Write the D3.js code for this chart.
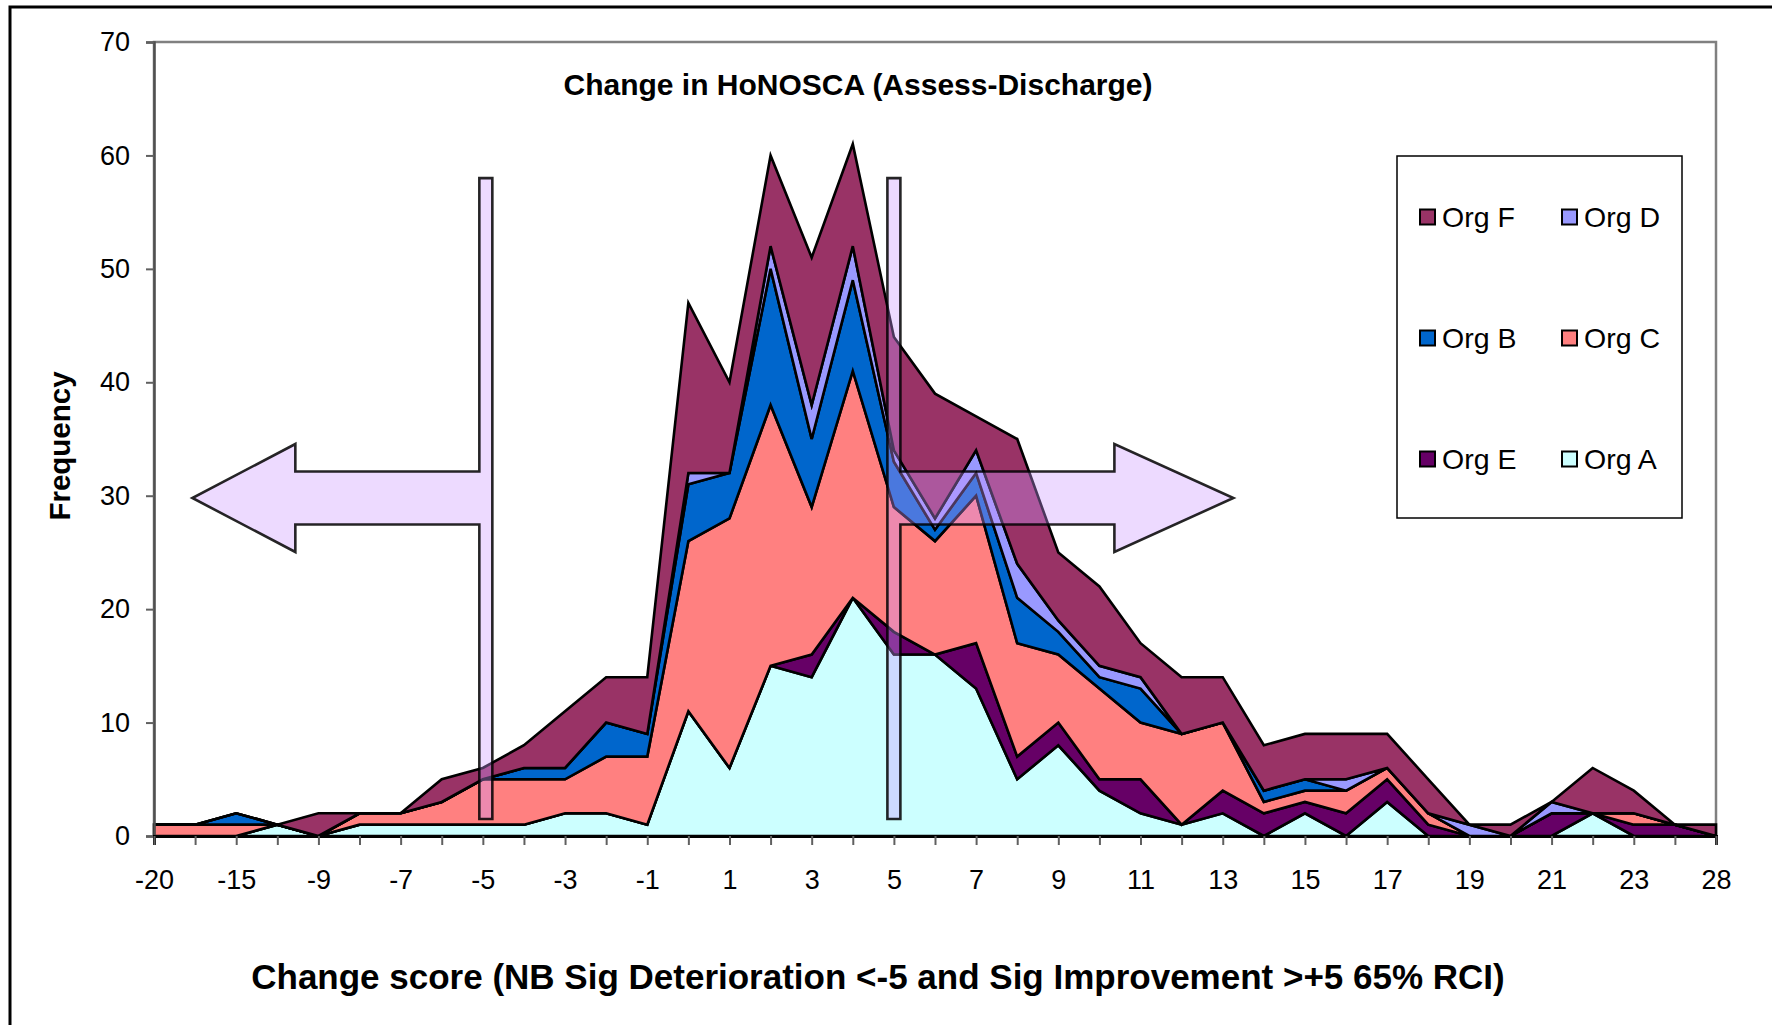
<!DOCTYPE html>
<html>
<head>
<meta charset="utf-8">
<script src="https://cdn.jsdelivr.net/npm/d3@7"></script>
<style>
  body { margin: 0; background: #fff; }
  svg { display: block; font-family: Arial, "Liberation Sans", sans-serif; }
</style>
</head>
<body>
<svg id="chart"></svg>
<script>
// change score categories (only every other one gets a label)
const categories = [-20, -18, -15, -11, -9, -8, -7, -6, -5, -4, -3, -2, -1, 0, 1, 2, 3, 4, 5, 6,
  7, 8, 9, 10, 11, 12, 13, 14, 15, 16, 17, 18, 19, 20, 21, 22, 23, 25, 28];

// frequencies per organisation, stacked bottom -> top: A, E, C, B, D, F
const orgA = [0, 0, 0, 1, 0, 1, 1, 1, 1, 1, 2, 2, 1, 11, 6, 15, 14, 21, 16, 16,
  13, 5, 8, 4, 2, 1, 2, 0, 2, 0, 3, 0, 0, 0, 0, 2, 0, 0, 0];
const orgE = [0, 0, 0, 0, 0, 0, 0, 0, 0, 0, 0, 0, 0, 0, 0, 0, 2, 0, 2, 0,
  4, 2, 2, 1, 3, 0, 2, 2, 1, 2, 2, 1, 0, 0, 2, 0, 1, 1, 0];
const orgC = [1, 1, 1, 0, 0, 1, 1, 2, 4, 4, 3, 5, 6, 15, 22, 23, 13, 20, 11, 10,
  13, 10, 6, 8, 5, 8, 6, 1, 1, 2, 1, 1, 0, 0, 0, 0, 1, 0, 0];
const orgB = [0, 0, 1, 0, 0, 0, 0, 0, 0, 1, 1, 3, 2, 5, 4, 12, 6, 8, 4, 1,
  2, 4, 2, 1, 3, 0, 0, 1, 1, 0, 0, 0, 0, 0, 0, 0, 0, 0, 0];
const orgD = [0, 0, 0, 0, 0, 0, 0, 0, 0, 0, 0, 0, 0, 1, 0, 2, 3, 3, 1, 1,
  2, 3, 1, 1, 1, 0, 0, 0, 0, 1, 0, 0, 1, 0, 1, 0, 0, 0, 0];
const orgF = [0, 0, 0, 0, 2, 0, 0, 2, 1, 2, 5, 4, 5, 15, 8, 8, 13, 9, 10, 11,
  3, 11, 6, 7, 3, 5, 4, 4, 4, 4, 3, 3, 0, 1, 0, 4, 2, 0, 1];

const seriesKeys = ["Org A", "Org E", "Org C", "Org B", "Org D", "Org F"];
const seriesValues = [orgA, orgE, orgC, orgB, orgD, orgF];
const seriesColors = ["#CCFFFF", "#660066", "#FF8080", "#0066CC", "#9999FF", "#993366"];
const legendOrder = ["Org F", "Org D", "Org B", "Org C", "Org E", "Org A"];

const yTicks = [0, 10, 20, 30, 40, 50, 60, 70];

// significance cut-offs drawn as bar + arrow call-outs (hand placed shapes in the original)
const cutoffs = [
  { at: -5, dir: -1, nudge: 3, shaftLen: 184, headLen: 103 },
  { at: 5, dir: 1, nudge: 0, shaftLen: 214, headLen: 119 }
];

const width = 1772;
const height = 1025;
const margin = { left: 154, right: 56, top: 42, bottom: 189 };

const svg = d3.select("#chart").attr("width", width).attr("height", height);

// outer chart border
svg.append("rect")
  .attr("x", 10).attr("y", 7)
  .attr("width", width + 20).attr("height", height + 20)
  .attr("fill", "#fff").attr("stroke", "#000").attr("stroke-width", 3);

const x = d3.scalePoint()
  .domain(categories)
  .range([margin.left, width - margin.right]);

const y = d3.scaleLinear()
  .domain([0, 70])
  .range([height - margin.bottom, margin.top]);

// plot area frame (grey top/right)
svg.append("rect")
  .attr("x", margin.left).attr("y", margin.top)
  .attr("width", width - margin.right - margin.left)
  .attr("height", height - margin.bottom - margin.top)
  .attr("fill", "none").attr("stroke", "#808080").attr("stroke-width", 2.5);

// rows for the stack
const rows = categories.map((c, i) => {
  const r = { cat: c };
  seriesKeys.forEach((k, j) => { r[k] = seriesValues[j][i]; });
  return r;
});

const stacked = d3.stack().keys(seriesKeys)(rows);

const area = d3.area()
  .x(d => x(d.data.cat))
  .y0(d => y(d[0]))
  .y1(d => y(d[1]));

svg.append("g")
  .attr("class", "areas")
  .selectAll("path")
  .data(stacked)
  .enter().append("path")
    .attr("d", area)
    .attr("fill", (d, i) => seriesColors[i])
    .attr("stroke", "#000")
    .attr("stroke-width", 2.6)
    .attr("stroke-linejoin", "miter");

// y axis
const yAxis = svg.append("g")
  .attr("transform", `translate(${margin.left},0)`)
  .call(d3.axisLeft(y).tickValues(yTicks).tickSize(8).tickPadding(16));
yAxis.select(".domain").attr("stroke", "#505050").attr("stroke-width", 2.5);
yAxis.selectAll(".tick line").attr("stroke", "#606060").attr("stroke-width", 2);
yAxis.selectAll(".tick text")
  .attr("font-size", 27).attr("fill", "#000")
  .attr("font-family", "Arial, 'Liberation Sans', sans-serif");

// x axis
const xAxis = svg.append("g")
  .attr("transform", `translate(0,${height - margin.bottom})`)
  .call(d3.axisBottom(x)
    .tickSize(9)
    .tickPadding(25)
    .tickFormat((d, i) => (i % 2 === 0 ? d : "")));
xAxis.select(".domain").attr("stroke", "#000").attr("stroke-width", 3);
xAxis.selectAll(".tick line").attr("stroke", "#606060").attr("stroke-width", 2);
xAxis.selectAll(".tick text")
  .attr("font-size", 27).attr("fill", "#000")
  .attr("font-family", "Arial, 'Liberation Sans', sans-serif");

// cut-off call-outs: vertical bar joined to an arrow, semi transparent lavender
const barHalf = 6.5;
const barTop = y(58);
const barBottom = y(1.5);
const arrowMid = y(29.8);
const shaftHalf = 26.5;
const headHalf = 54;

cutoffs.forEach(c => {
  const cx = x(c.at) + c.nudge;
  const s = c.dir;
  const inner = cx + s * barHalf;            // bar edge the arrow leaves from
  const outer = cx - s * barHalf;
  const headBack = inner + s * c.shaftLen;
  const tip = headBack + s * c.headLen;
  const pts = [
    [outer, barTop], [inner, barTop],
    [inner, arrowMid - shaftHalf], [headBack, arrowMid - shaftHalf],
    [headBack, arrowMid - headHalf], [tip, arrowMid],
    [headBack, arrowMid + headHalf], [headBack, arrowMid + shaftHalf],
    [inner, arrowMid + shaftHalf], [inner, barBottom],
    [outer, barBottom]
  ];
  svg.append("path")
    .attr("d", d3.line()(pts) + "Z")
    .attr("fill", "#CC99FF")
    .attr("fill-opacity", 0.36)
    .attr("stroke", "#000")
    .attr("stroke-opacity", 0.85)
    .attr("stroke-width", 2.6)
    .attr("stroke-linejoin", "miter");
});

// title
svg.append("text")
  .attr("x", 858).attr("y", 95)
  .attr("text-anchor", "middle")
  .attr("font-size", 30).attr("font-weight", "bold")
  .text("Change in HoNOSCA (Assess-Discharge)");

// axis titles
svg.append("text")
  .attr("transform", "translate(70,446) rotate(-90)")
  .attr("text-anchor", "middle")
  .attr("font-size", 29.5).attr("font-weight", "bold")
  .text("Frequency");

svg.append("text")
  .attr("x", 878).attr("y", 989)
  .attr("text-anchor", "middle")
  .attr("font-size", 35).attr("font-weight", "bold")
  .text("Change score (NB Sig Deterioration <-5 and Sig Improvement >+5 65% RCI)");

// legend
const legend = svg.append("g").attr("class", "legend");
legend.append("rect")
  .attr("x", 1397).attr("y", 156)
  .attr("width", 285).attr("height", 362)
  .attr("fill", "#fff").attr("stroke", "#000").attr("stroke-width", 1.5);

const legendItems = legend.selectAll("g.item")
  .data(legendOrder)
  .enter().append("g")
    .attr("class", "item")
    .attr("transform", (d, i) => `translate(${1420 + (i % 2) * 142},${217 + Math.floor(i / 2) * 121})`);

legendItems.append("rect")
  .attr("x", 0).attr("y", -7.5)
  .attr("width", 15).attr("height", 15)
  .attr("fill", d => seriesColors[seriesKeys.indexOf(d)])
  .attr("stroke", "#000").attr("stroke-width", 2);

legendItems.append("text")
  .attr("x", 22).attr("y", 10)
  .attr("font-size", 28.5)
  .text(d => d);
</script>
</body>
</html>
